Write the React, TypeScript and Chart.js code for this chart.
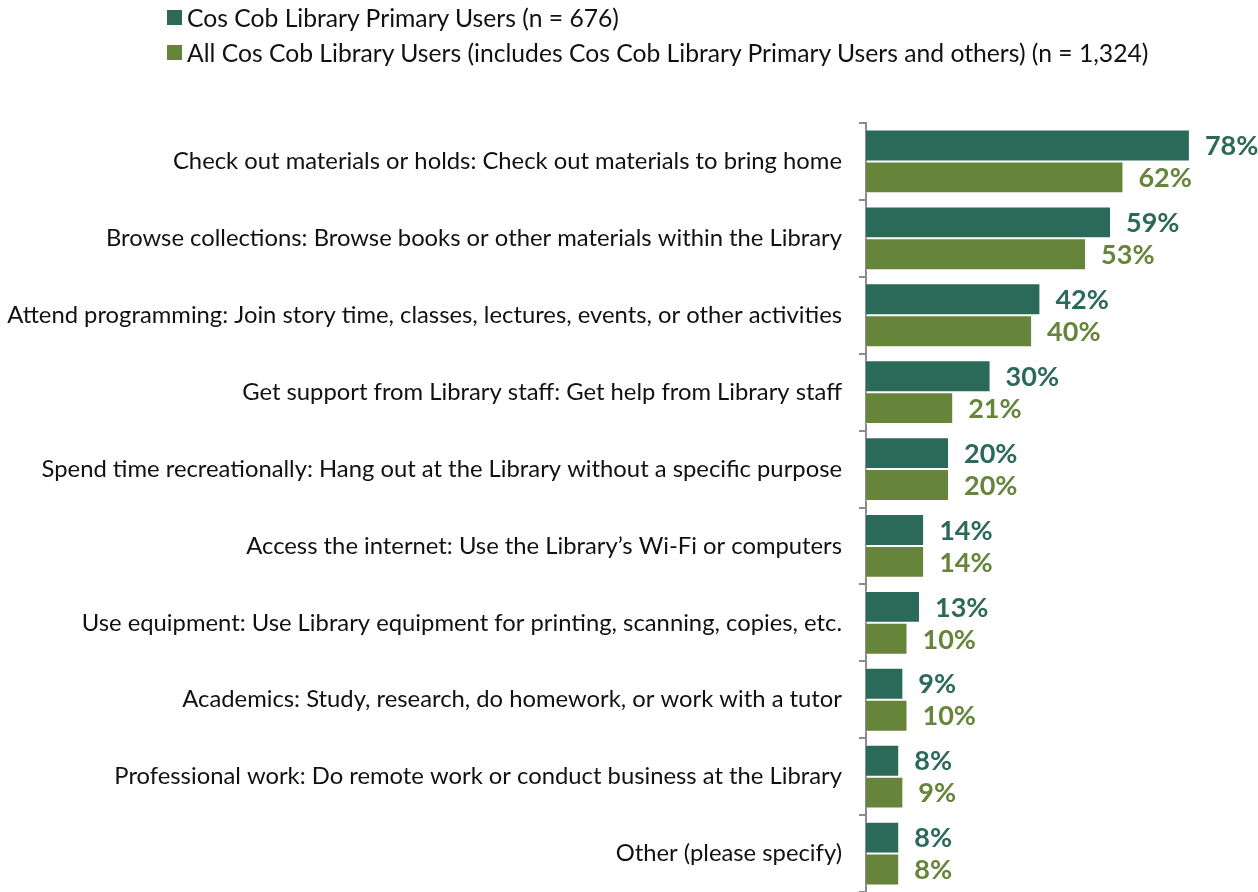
import React, { useEffect, useRef } from "react";
import { Chart, registerables } from "chart.js";

Chart.register(...registerables);

const categories = [
  "Check out materials or holds: Check out materials to bring home",
  "Browse collections: Browse books or other materials within the Library",
  "Attend programming: Join story time, classes, lectures, events, or other activities",
  "Get support from Library staff: Get help from Library staff",
  "Spend time recreationally: Hang out at the Library without a specific purpose",
  "Access the internet: Use the Library\u2019s Wi-Fi or computers",
  "Use equipment: Use Library equipment for printing, scanning, copies, etc.",
  "Academics: Study, research, do homework, or work with a tutor",
  "Professional work: Do remote work or conduct business at the Library",
  "Other (please specify)",
];

const seriesNames = [
  "Cos Cob Library Primary Users (n = 676)",
  "All Cos Cob Library Users (includes Cos Cob Library Primary Users and others) (n = 1,324)",
];

const primaryUsers = [78, 59, 42, 30, 20, 14, 13, 9, 8, 8];
const allUsers = [62, 53, 40, 21, 20, 14, 10, 10, 9, 8];

const colors = ["#2b6959", "#66853a"];
const FONT = "Lato, 'Noto Sans', sans-serif";

const valueLabels = {
  id: "valueLabels",
  afterDatasetsDraw(chart: any) {
    const ctx = chart.ctx;
    ctx.save();
    ctx.font = `bold 27px ${FONT}`;
    ctx.textAlign = "left";
    ctx.textBaseline = "middle";
    chart.data.datasets.forEach((ds: any, di: number) => {
      const meta = chart.getDatasetMeta(di);
      ctx.fillStyle = ds.backgroundColor;
      meta.data.forEach((bar: any, i: number) => {
        ctx.fillText(`${ds.data[i]}%`, bar.x + 15, bar.y + 1);
      });
    });
    ctx.restore();
  },
};

export default function App() {
  const ref = useRef<HTMLCanvasElement | null>(null);

  useEffect(() => {
    if (!ref.current) return;
    const chart = new Chart(ref.current, {
      type: "bar",
      data: {
        labels: categories,
        datasets: [
          {
            label: seriesNames[0],
            data: primaryUsers,
            backgroundColor: colors[0],
            borderColor: "rgba(255,255,255,0.55)",
            borderWidth: 1,
            categoryPercentage: 0.83,
            barPercentage: 1.0,
          },
          {
            label: seriesNames[1],
            data: allUsers,
            backgroundColor: colors[1],
            borderColor: "rgba(255,255,255,0.55)",
            borderWidth: 1,
            categoryPercentage: 0.83,
            barPercentage: 1.0,
          },
        ],
      },
      options: {
        indexAxis: "y",
        animation: false,
        responsive: false,
        devicePixelRatio: 1,
        layout: { padding: { top: 123, bottom: 0, left: 0, right: 0 } },
        plugins: {
          legend: { display: false },
          tooltip: { enabled: false },
        },
        scales: {
          x: {
            display: false,
            min: 0,
            max: 94.4,
          },
          y: {
            afterFit: (s: any) => {
              s.width = 866;
              s.paddingTop = 0;
              s.paddingBottom = 0;
            },
            grid: {
              drawOnChartArea: false,
              offset: true,
              color: "#8c8c8c",
              lineWidth: 2,
              tickLength: 7,
            },
            border: { display: true, color: "#8c8c8c", width: 2 },
            ticks: {
              color: "#111111",
              padding: 17,
              font: { family: FONT, size: 23.8 },
              autoSkip: false,
            },
          },
        },
      },
      plugins: [valueLabels],
    });
    return () => chart.destroy();
  }, []);

  return (
    <div style={{ position: "absolute", left: 0, top: 0, width: 1258, height: 892, background: "#fff" }}>
      <canvas ref={ref} width={1258} height={892} style={{ position: "absolute", left: 0, top: 0 }} />
      {seriesNames.map((name, i) => (
        <div
          key={name}
          style={{
            position: "absolute",
            left: 167,
            top: 2 + i * 35,
            height: 30,
            display: "flex",
            alignItems: "center",
            fontFamily: FONT,
            fontSize: 24.7,
            color: "#111",
            whiteSpace: "nowrap",
          }}
        >
          <span style={{ display: "inline-block", width: 15, height: 15, background: colors[i], marginRight: 5, flex: "none" }} />
          {name}
        </div>
      ))}
    </div>
  );
}
